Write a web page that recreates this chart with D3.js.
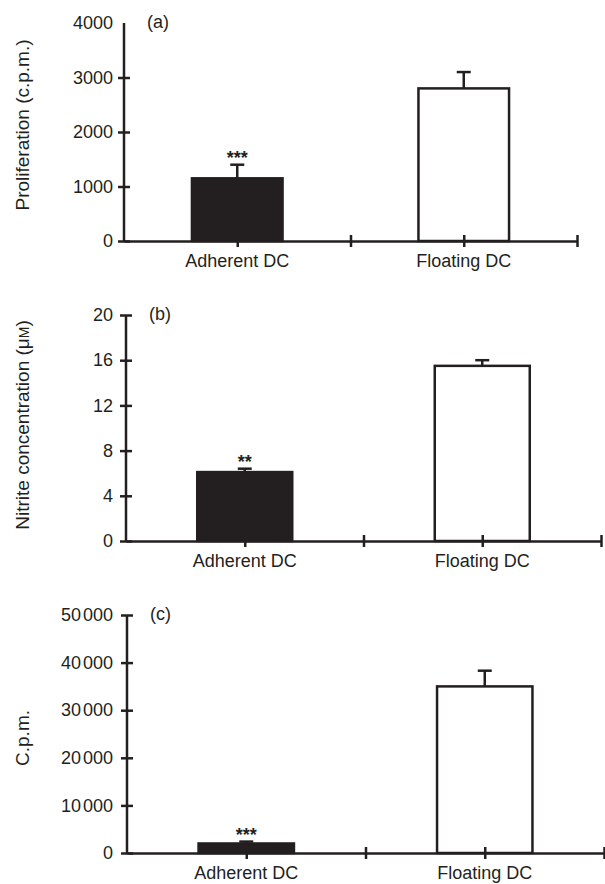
<!DOCTYPE html>
<html>
<head>
<meta charset="utf-8">
<script src="https://cdn.jsdelivr.net/npm/d3@7"></script>
<style>
  body { margin: 0; background: #fff; }
  svg text { font-family: Arial, "Liberation Sans", Helvetica, sans-serif; fill: #231f20; }
  .axis path, .axis line { stroke: #231f20; stroke-width: 2.5; }
</style>
</head>
<body>
<div id="chart"></div>
<script>
// data
const categories = ["Adherent DC", "Floating DC"];
const panelLabels = ["(a)", "(b)", "(c)"];
const yTitles = ["Proliferation (c.p.m.)", "Nitrite concentration", "C.p.m."];

const proliferation = [1150, 2800],
    proliferationErr = [250, 300];
const nitrite = [6.1, 15.5],
    nitriteErr = [0.3, 0.5];
const cpm = [2000, 35000],
    cpmErr = [400, 3300];

const stars = ["***", "**", "***"]; // over the adherent bar

const ticksA = [0, 1000, 2000, 3000, 4000],
    ticksB = [0, 4, 8, 12, 16, 20],
    ticksC = [0, 10000, 20000, 30000, 40000, 50000];

// layout for each panel (pixel positions of the axes)
const layout = [
    { left: 124, right: 577, bottom: 241, top: 23, titleY: 125, topTick: false },
    { left: 126, right: 601, bottom: 541, top: 315, titleY: 425, topTick: true },
    { left: 127, right: 604, bottom: 853, top: 615, titleY: 738, topTick: true }
];

const panels = [
    { values: proliferation, errs: proliferationErr, ticks: ticksA, split: false },
    { values: nitrite, errs: nitriteErr, ticks: ticksB, split: false },
    { values: cpm, errs: cpmErr, ticks: ticksC, split: true } // "50 000" style
];

const ink = "#231f20";

let svg = d3.select("#chart").append("svg")
    .attr("width", 605)
    .attr("height", 884);

panels.forEach((p, i) => {
    let L = layout[i];
    let g = svg.append("g");

    let y = d3.scaleLinear()
        .domain([0, d3.max(p.ticks)])
        .range([L.bottom, L.top]);
    let x = d3.scaleBand()
        .domain(categories)
        .range([L.left, L.right])
        .padding(0);
    // half-category positions for the x tick marks
    let xt = d3.scaleLinear()
        .domain([0, 2])
        .range([L.left, L.right]);

    let barW = x.bandwidth() * 0.4;

    // bars
    g.selectAll("rect.bar")
        .data(categories)
        .join("rect")
        .attr("class", "bar")
        .attr("x", d => x(d) + x.bandwidth() / 2 - barW / 2)
        .attr("y", (d, j) => y(p.values[j]))
        .attr("width", barW)
        .attr("height", (d, j) => y(0) - y(p.values[j]))
        .attr("fill", (d, j) => j === 0 ? ink : "#fff")
        .attr("stroke", ink)
        .attr("stroke-width", 2.5);

    // error bars (upper only)
    let eb = g.selectAll("g.err")
        .data(categories)
        .join("g")
        .attr("class", "err")
        .attr("stroke", ink)
        .attr("stroke-width", 2.5);
    eb.append("line")
        .attr("x1", d => x(d) + x.bandwidth() / 2)
        .attr("x2", d => x(d) + x.bandwidth() / 2)
        .attr("y1", (d, j) => y(p.values[j]))
        .attr("y2", (d, j) => y(p.values[j] + p.errs[j]));
    eb.append("line")
        .attr("x1", d => x(d) + x.bandwidth() / 2 - 7)
        .attr("x2", d => x(d) + x.bandwidth() / 2 + 7)
        .attr("y1", (d, j) => y(p.values[j] + p.errs[j]))
        .attr("y2", (d, j) => y(p.values[j] + p.errs[j]));

    // significance stars
    g.append("text")
        .attr("x", x(categories[0]) + x.bandwidth() / 2)
        .attr("y", y(p.values[0] + p.errs[0]) - 1)
        .attr("text-anchor", "middle")
        .attr("font-size", 18)
        .attr("font-weight", "bold")
        .text(stars[i]);

    // y axis
    let yAxis = g.append("g")
        .attr("class", "axis")
        .attr("transform", `translate(${L.left},0)`)
        .call(d3.axisLeft(y)
            .tickValues(p.ticks)
            .tickSizeOuter(0)
            .tickSizeInner(6)
            .tickPadding(L.left - 113 - 6)
            .tickFormat(d3.format("d")));
    yAxis.selectAll(".tick line").attr("x2", -6).attr("x1", 6);
    if (!L.topTick) yAxis.selectAll(".tick line").filter(d => d === d3.max(p.ticks)).remove();
    yAxis.selectAll(".tick text").attr("font-size", 18).attr("fill", ink);
    if (p.split) {
        // small gap before the thousands
        yAxis.selectAll(".tick text").filter(d => d >= 10000).each(function (d) {
            let s = String(d), el = d3.select(this).text("");
            el.append("tspan").text(s.slice(0, -3));
            el.append("tspan").attr("dx", 2).text(s.slice(-3));
        });
    }
    yAxis.select(".domain").attr("d", `M0,${L.bottom}V${L.top}`);

    // x axis line + tick marks
    let xAxis = g.append("g")
        .attr("class", "axis")
        .attr("transform", `translate(0,${L.bottom})`)
        .call(d3.axisBottom(xt)
            .tickValues([0.5, 1, 1.5, 2])
            .tickSizeOuter(0)
            .tickFormat(""));
    xAxis.selectAll(".tick line").attr("y1", -6).attr("y2", 6);

    // category labels
    g.selectAll("text.cat")
        .data(categories)
        .join("text")
        .attr("class", "cat")
        .attr("x", d => x(d) + x.bandwidth() / 2)
        .attr("y", L.bottom + 26)
        .attr("text-anchor", "middle")
        .attr("font-size", 18)
        .text(d => d);

    // panel letter
    g.append("text")
        .attr("x", L.left + 23)
        .attr("y", L.top + 5)
        .attr("font-size", 18)
        .text(panelLabels[i]);

    // y title
    let t = g.append("text")
        .attr("transform", `translate(29,${L.titleY}) rotate(-90)`)
        .attr("text-anchor", "middle")
        .attr("font-size", 19)
        .text(yTitles[i]);
    if (i === 1) {
        t.append("tspan").text(" (\u03bc");
        t.append("tspan").attr("font-size", 14).text("M");
        t.append("tspan").text(")");
    }
});
</script>
</body>
</html>
